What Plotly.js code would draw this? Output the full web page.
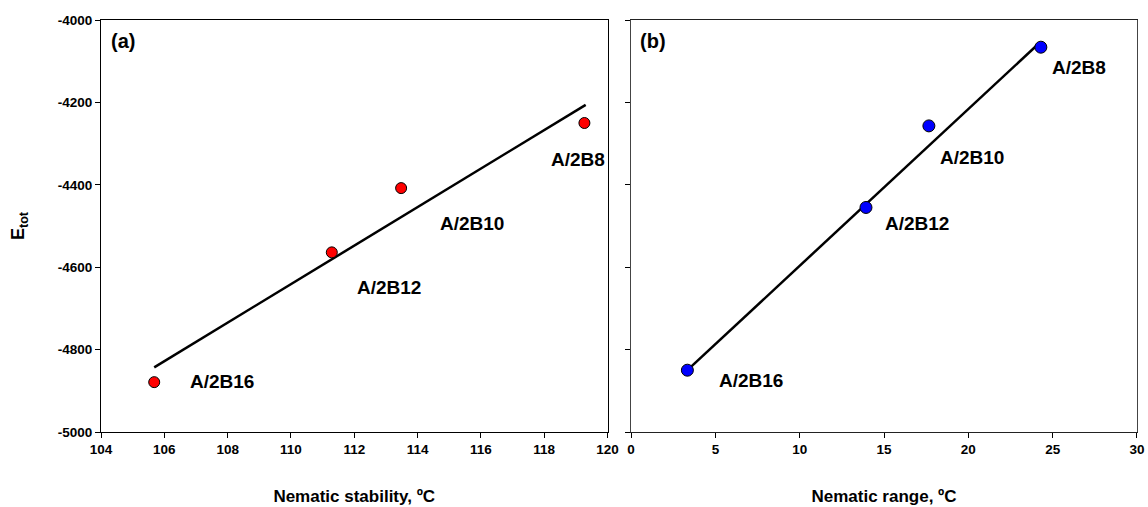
<!DOCTYPE html>
<html>
<head>
<meta charset="utf-8">
<script src="https://cdn.plot.ly/plotly-3.0.1.min.js"></script>
<style>html,body{margin:0;padding:0;background:#fff;}#chart{width:1148px;height:507px;}</style>
</head>
<body>
<div id="chart"></div>
<script>
// Compound labels
const compounds = ["A/2B16", "A/2B12", "A/2B10", "A/2B8"];
// Panel (a): nematic stability (°C) vs E_tot
const stabilityX = [105.68, 111.29, 113.48, 119.27];
const stabilityE = [-4879, -4564, -4408, -4250];
const fitAX = [105.68, 119.31];
const fitAY = [-4843, -4206];
// Panel (b): nematic range (°C) vs E_tot
const rangeX = [3.34, 13.93, 17.66, 24.3];
const rangeE = [-4850, -4455, -4257, -4066];
const fitBX = [3.34, 24.1];
const fitBY = [-4850, -4060];
// Tick values and labels
const yTicks = [-5000, -4800, -4600, -4400, -4200, -4000];
const yTickText = ["-5000", "-4800", "-4600", "-4400", "-4200", "-4000"];
const xTicksA = [104, 106, 108, 110, 112, 114, 116, 118, 120];
const xTicksB = [0, 5, 10, 15, 20, 25, 30];

// label offsets (pixels) relative to points
const offA = [[34, 1], [23, -35], [37, -35], [-35, -36]];
const offB = [[30, -10], [17, -16], [9, -32], [9, -20]];

const F = "Arial, 'Liberation Sans', Helvetica, sans-serif";
const tickFont = {family: F, size: 13.5, color: "#000", weight: "bold"};
const titleFont = {family: F, size: 17, color: "#000", weight: "bold"};
const labelFont = {family: F, size: 19, color: "#000", weight: "bold"};

const traces = [
  {x: fitAX, y: fitAY, mode: "lines", xaxis: "x", yaxis: "y",
   line: {color: "#000", width: 2.5}, hoverinfo: "skip", showlegend: false},
  {x: stabilityX, y: stabilityE, mode: "markers", xaxis: "x", yaxis: "y",
   marker: {color: "#ff0000", size: 11, line: {color: "#000", width: 1}}, showlegend: false},
  {x: fitBX, y: fitBY, mode: "lines", xaxis: "x2", yaxis: "y2",
   line: {color: "#000", width: 2.5}, hoverinfo: "skip", showlegend: false},
  {x: rangeX, y: rangeE, mode: "markers", xaxis: "x2", yaxis: "y2",
   marker: {color: "#0000ff", size: 12, line: {color: "#000", width: 1}}, showlegend: false}
];

const annotations = [];
compounds.forEach((c, i) => {
  annotations.push({x: stabilityX[i], y: stabilityE[i], xref: "x", yref: "y", text: c,
    showarrow: false, xanchor: "left", yanchor: "middle", xshift: offA[i][0], yshift: offA[i][1],
    font: labelFont});
  annotations.push({x: rangeX[i], y: rangeE[i], xref: "x2", yref: "y2", text: c,
    showarrow: false, xanchor: "left", yanchor: "middle", xshift: offB[i][0], yshift: offB[i][1],
    font: labelFont});
});
annotations.push({x: 0, y: 1, xref: "x domain", yref: "y domain", text: "(a)", showarrow: false,
  xanchor: "left", yanchor: "top", xshift: 8, yshift: -8, font: {family: F, size: 20, color: "#000", weight: "bold"}});
annotations.push({x: 0, y: 1, xref: "x2 domain", yref: "y2 domain", text: "(b)", showarrow: false,
  xanchor: "left", yanchor: "top", xshift: 7, yshift: -8, font: {family: F, size: 20, color: "#000", weight: "bold"}});

const axBase = {showgrid: false, zeroline: false, showline: true, linecolor: "#000", linewidth: 1,
  mirror: true, ticks: "outside", ticklen: 5, tickcolor: "#000", tickfont: tickFont};

const layout = {
  width: 1148, height: 507,
  margin: {l: 0, r: 0, t: 20, b: 75},
  paper_bgcolor: "#fff", plot_bgcolor: "#fff",
  xaxis: Object.assign({}, axBase, {domain: [0.088, 0.5292], range: [104, 120], tickvals: xTicksA,
    title: {text: "Nematic stability, ºC", font: titleFont, standoff: 33}}),
  yaxis: Object.assign({}, axBase, {domain: [0, 1], range: [-5000, -4000], tickvals: yTicks, ticktext: yTickText,
    title: {text: "E<sub>tot</sub>", font: {family: F, size: 18, color: "#000", weight: "bold"}, standoff: 28}}),
  xaxis2: Object.assign({}, axBase, {domain: [0.5497, 0.9904], range: [0, 30], tickvals: xTicksB, anchor: "y2",
    linecolor: "#222", title: {text: "Nematic range, ºC", font: titleFont, standoff: 33}}),
  yaxis2: Object.assign({}, axBase, {domain: [0, 1], range: [-5000, -4000], tickvals: yTicks, anchor: "x2",
    linecolor: "#444", showticklabels: false}),
  annotations: annotations
};

Plotly.newPlot("chart", traces, layout, {displayModeBar: false, staticPlot: true});
</script>
</body>
</html>
